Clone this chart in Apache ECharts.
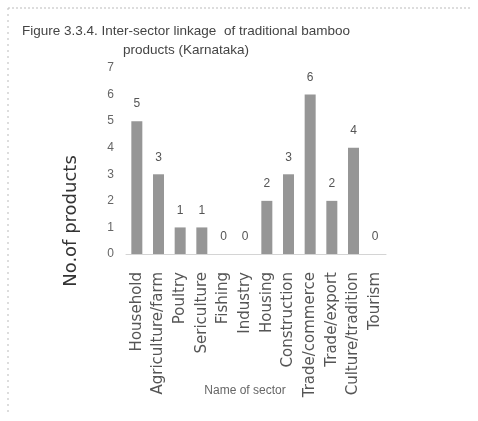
<!DOCTYPE html>
<html>
<head>
<meta charset="utf-8">
<script src="https://cdn.jsdelivr.net/npm/echarts@6/dist/echarts.min.js"></script>
<style>
  html, body { margin: 0; padding: 0; background: #fff; }
  #chart { width: 478px; height: 421px; }
</style>
</head>
<body>
<div id="chart"></div>
<script>
// Sectors and number of traditional bamboo products linked to each
const sectors = [
  'Household', 'Agriculture/farm', 'Poultry', 'Sericulture', 'Fishing', 'Industry',
  'Housing', 'Construction', 'Trade/commerce', 'Trade/export', 'Culture/tradition', 'Tourism'
];
const products = [5, 3, 1, 1, 0, 0, 2, 3, 6, 2, 4, 0];
const yTicks = [0, 1, 2, 3, 4, 5, 6, 7];

const chart = echarts.init(document.getElementById('chart'));
chart.setOption({
  backgroundColor: '#ffffff',
  animation: false,
  title: {
    text: 'Figure 3.3.4. Inter-sector linkage  of traditional bamboo\nproducts (Karnataka)',
    left: 181,
    top: 17,
    textAlign: 'center',
    textStyle: {
      fontFamily: 'Liberation Sans',
      fontSize: 13.5,
      fontWeight: 'normal',
      color: '#444',
      lineHeight: 19
    }
  },
  grid: { left: 126, right: 92, top: 68, bottom: 167 },
  xAxis: {
    type: 'category',
    data: sectors,
    name: 'Name of sector',
    nameLocation: 'middle',
    nameGap: 131,
    nameMoveOverlap: false,
    nameTextStyle: {
      fontFamily: 'Liberation Sans', fontSize: 12, color: '#666',
      padding: [0, 22, 0, 0]
    },
    axisLine: { lineStyle: { color: '#d4d4d4', width: 1 } },
    axisTick: { show: false },
    axisLabel: {
      rotate: 90,
      interval: 0,
      margin: 18,
      fontFamily: 'DejaVu Sans',
      fontSize: 15,
      color: '#555'
    }
  },
  yAxis: {
    type: 'value',
    min: 0,
    max: yTicks[yTicks.length - 1],
    interval: 1,
    name: 'No.of products',
    nameLocation: 'middle',
    nameGap: 46,
    nameRotate: 90,
    nameMoveOverlap: false,
    nameTextStyle: {
      fontFamily: 'DejaVu Sans', fontSize: 18, color: '#333',
      padding: [0, 120, 0, 0]
    },
    axisLine: { show: false },
    axisTick: { show: false },
    splitLine: { show: false },
    axisLabel: {
      margin: 12,
      fontFamily: 'Liberation Sans',
      fontSize: 12,
      color: '#666'
    }
  },
  series: [{
    type: 'bar',
    data: products,
    barWidth: 11,
    itemStyle: { color: '#969696' },
    label: {
      show: true,
      position: 'top',
      distance: 11,
      fontFamily: 'Liberation Sans',
      fontSize: 12,
      color: '#555'
    }
  }],
  graphic: [
    { type: 'line', shape: { x1: 8, y1: 8, x2: 470, y2: 8 },
      style: { stroke: '#bbb', lineWidth: 1, lineDash: [2, 2] } },
    { type: 'line', shape: { x1: 8, y1: 8, x2: 8, y2: 415 },
      style: { stroke: '#bbb', lineWidth: 1, lineDash: [2, 4] } }
  ]
});
</script>
</body>
</html>
